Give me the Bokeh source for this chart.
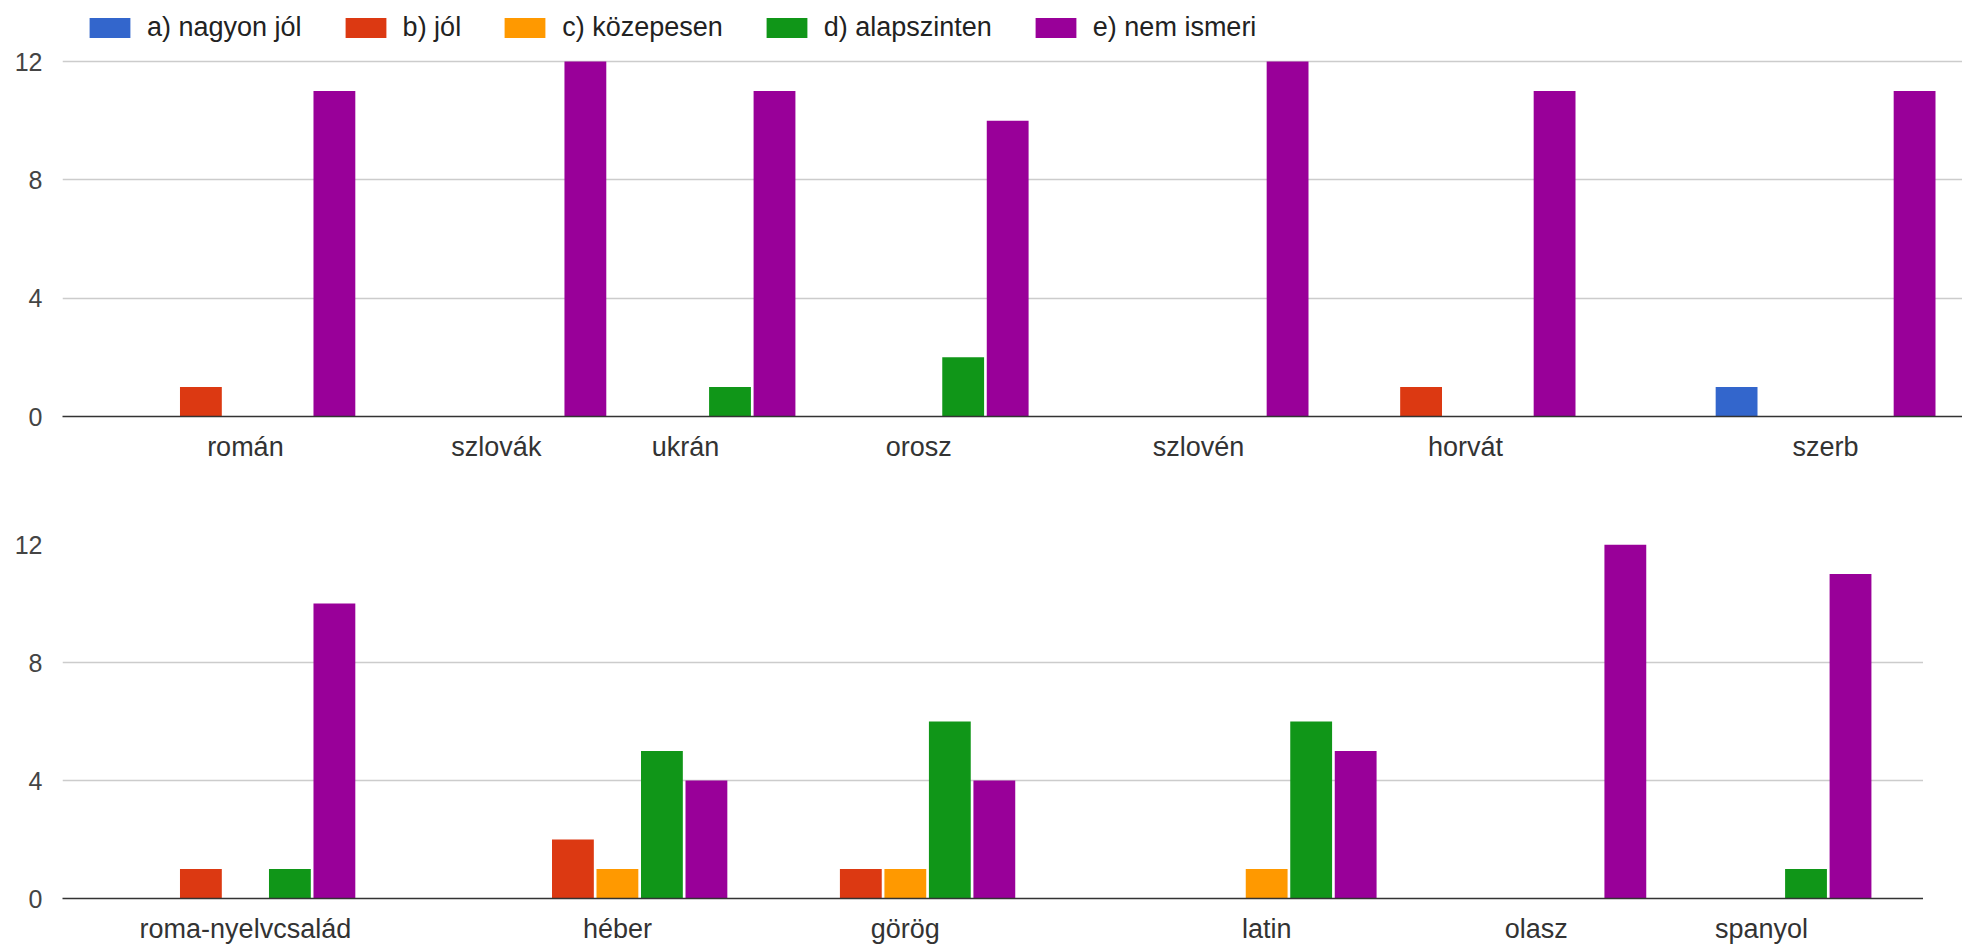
from bokeh.plotting import figure
from bokeh.models import Range1d, FixedTicker, ColumnDataSource, Legend, LegendItem
from bokeh.transform import dodge
from bokeh.layouts import column
from bokeh.embed import file_html
from bokeh.resources import INLINE

# ---------------- data ----------------
series_names = ["a) nagyon jól", "b) jól", "c) közepesen", "d) alapszinten", "e) nem ismeri"]
series_colors = ["#3366cc", "#dc3912", "#ff9900", "#109618", "#990099"]

top_languages = ["román", "szlovák", "ukrán", "orosz", "szlovén", "horvát", "szerb"]
top_a = [0, 0, 0, 0, 0, 0, 1]
top_b = [1, 0, 0, 0, 0, 1, 0]
top_c = [0, 0, 0, 0, 0, 0, 0]
top_d = [0, 0, 1, 2, 0, 0, 0]
top_e = [11, 12, 11, 10, 12, 11, 11]

bottom_languages = ["roma-nyelvcsalád", "héber", "görög", "latin", "olasz", "spanyol"]
bottom_a = [0, 0, 0, 0, 0, 0]
bottom_b = [1, 2, 1, 0, 0, 0]
bottom_c = [0, 1, 1, 1, 0, 0]
bottom_d = [1, 5, 6, 6, 0, 1]
bottom_e = [10, 4, 4, 5, 12, 11]

y_ticks = [0, 4, 8, 12]
y_max = 12

# ---------------- layout (group centres in bar-slot units; the source image spaces groups irregularly) ----------------
top_group_pos = [4.11, 9.75, 14.0, 19.24, 25.53, 31.53, 39.62]
bottom_group_pos = [4.11, 12.47, 18.94, 27.06, 33.12, 38.18]
PITCH_PX = 44.5
FONT = "Liberation Sans"


def make_chart(langs, values, pos, frame_w, frame_h, y_end, b_top, b_bottom):
    keys = ["a", "b", "c", "d", "e"]
    data = dict(pos=pos)
    for k, v in zip(keys, values):
        data[k] = v
    src = ColumnDataSource(data)
    p = figure(frame_width=frame_w, frame_height=frame_h,
               x_range=Range1d(0, frame_w / PITCH_PX), y_range=Range1d(0, y_end),
               output_backend="svg", toolbar_location=None,
               min_border_left=62, min_border_right=0,
               min_border_top=b_top, min_border_bottom=b_bottom)
    renderers = []
    for i, (k, c) in enumerate(zip(keys, series_colors)):
        r = p.vbar(x=dodge("pos", i - 2, range=p.x_range), top=k, bottom=0, width=0.94,
                   source=src, fill_color=c, line_color=None)
        renderers.append(r)

    p.xaxis.ticker = FixedTicker(ticks=pos)
    p.xaxis.major_label_overrides = {x: l for x, l in zip(pos, langs)}
    p.xaxis.axis_line_color = "#333333"
    p.xaxis.axis_line_width = 1.5
    p.xaxis.major_tick_line_color = None
    p.xaxis.minor_tick_line_color = None
    p.xaxis.major_label_text_font = FONT
    p.xaxis.major_label_text_font_size = "27px"
    p.xaxis.major_label_text_color = "#333333"
    p.xaxis.major_label_standoff = 9

    p.yaxis.ticker = FixedTicker(ticks=y_ticks)
    p.yaxis.axis_line_color = None
    p.yaxis.major_tick_line_color = None
    p.yaxis.minor_tick_line_color = None
    p.yaxis.major_label_text_font = FONT
    p.yaxis.major_label_text_font_size = "25px"
    p.yaxis.major_label_text_color = "#444444"
    p.yaxis.major_label_standoff = 14

    p.xgrid.visible = False
    p.ygrid.grid_line_color = "#cccccc"
    p.ygrid.grid_line_width = 1.5
    p.outline_line_color = None
    return p, renderers


# top chart: frame is extended above the 12 line to hold the legend
top_frame_h = 408
top_plot_h = 355
p1, rends = make_chart(top_languages, [top_a, top_b, top_c, top_d, top_e], top_group_pos,
                       1900, top_frame_h, y_max * top_frame_h / top_plot_h, 8, 88)
p2, _ = make_chart(bottom_languages, [bottom_a, bottom_b, bottom_c, bottom_d, bottom_e], bottom_group_pos,
                   1861, 354, y_max, 40, 46)

legend = Legend(items=[LegendItem(label=n, renderers=[r]) for n, r in zip(series_names, rends)],
                orientation="horizontal", location=(22, 373),
                glyph_width=51, glyph_height=25, label_height=25, label_standoff=12, spacing=38,
                padding=0, margin=0, border_line_color=None, background_fill_alpha=0,
                label_text_font=FONT, label_text_font_size="27px", label_text_color="#222222")
p1.add_layout(legend, "center")

layout = column(p1, p2)
open("out.html", "w").write(file_html(layout, INLINE))
